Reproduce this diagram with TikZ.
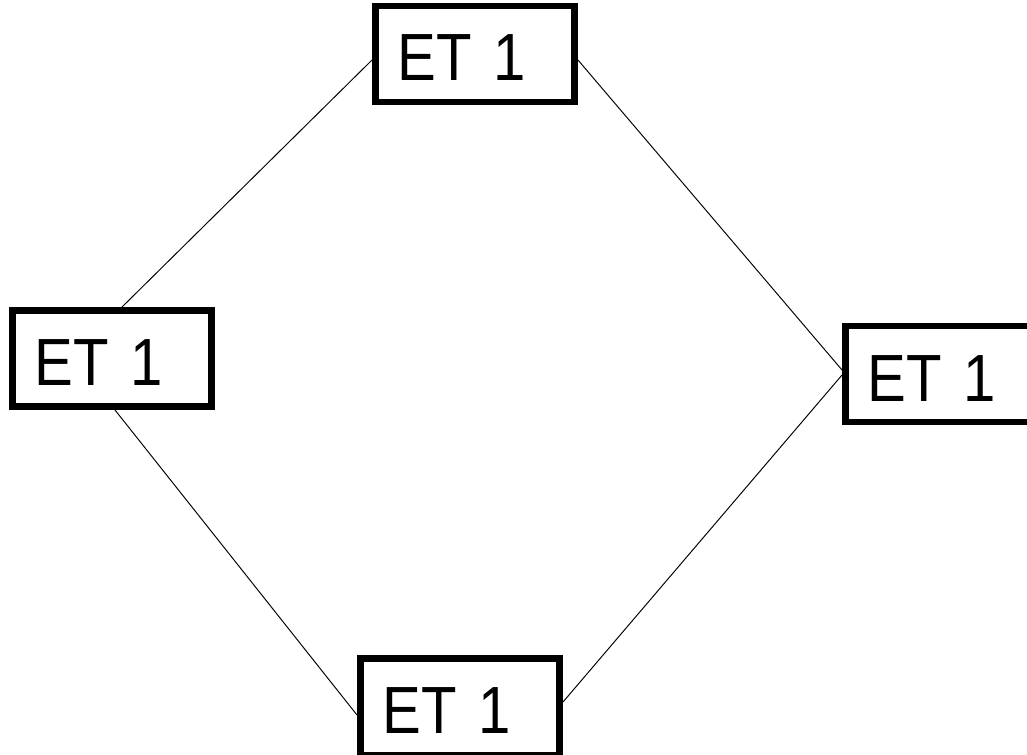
\documentclass[tikz,border=0pt]{standalone}
\usepackage{fontspec}
\setmainfont{Liberation Sans}[FakeStretch=0.87]
\usepackage{tikz}
\usetikzlibrary{positioning}
\tikzset{et/.style={draw,line width=3.7pt,minimum height=1.93cm,
    text width=3.11cm,align=left,inner xsep=0.44cm,inner ysep=0pt,
    text height=1.08cm,text depth=0pt,font=\fontsize{38}{45}\selectfont}}
\tikzset{link/.style={line width=0.55pt}}

\begin{document}
\begin{tikzpicture}[x=0.02cm,y=-0.02cm]
                \useasboundingbox (0,0) rectangle (1027,754);
                \node[et] (1) at (475,54)    {ET 1};
                \node[et] (2) at (112,358.5) {ET 1};
                \node[et] (3) at (945,374)   {ET 1};
                \node[et] (4) at (460,706.5) {ET 1};
            \path[link]
                    ([xshift=0.2cm]2.north)   edge ([yshift=-0.12cm]1.west)
                    ([yshift=-0.12cm]1.east)  edge ([yshift=0.08cm]3.west)
                    ([xshift=0.06cm]2.south)  edge ([yshift=-0.17cm]4.west)
                    ([yshift=0.09cm]4.east)   edge ([yshift=-0.02cm]3.west);
\end{tikzpicture}
\end{document}
